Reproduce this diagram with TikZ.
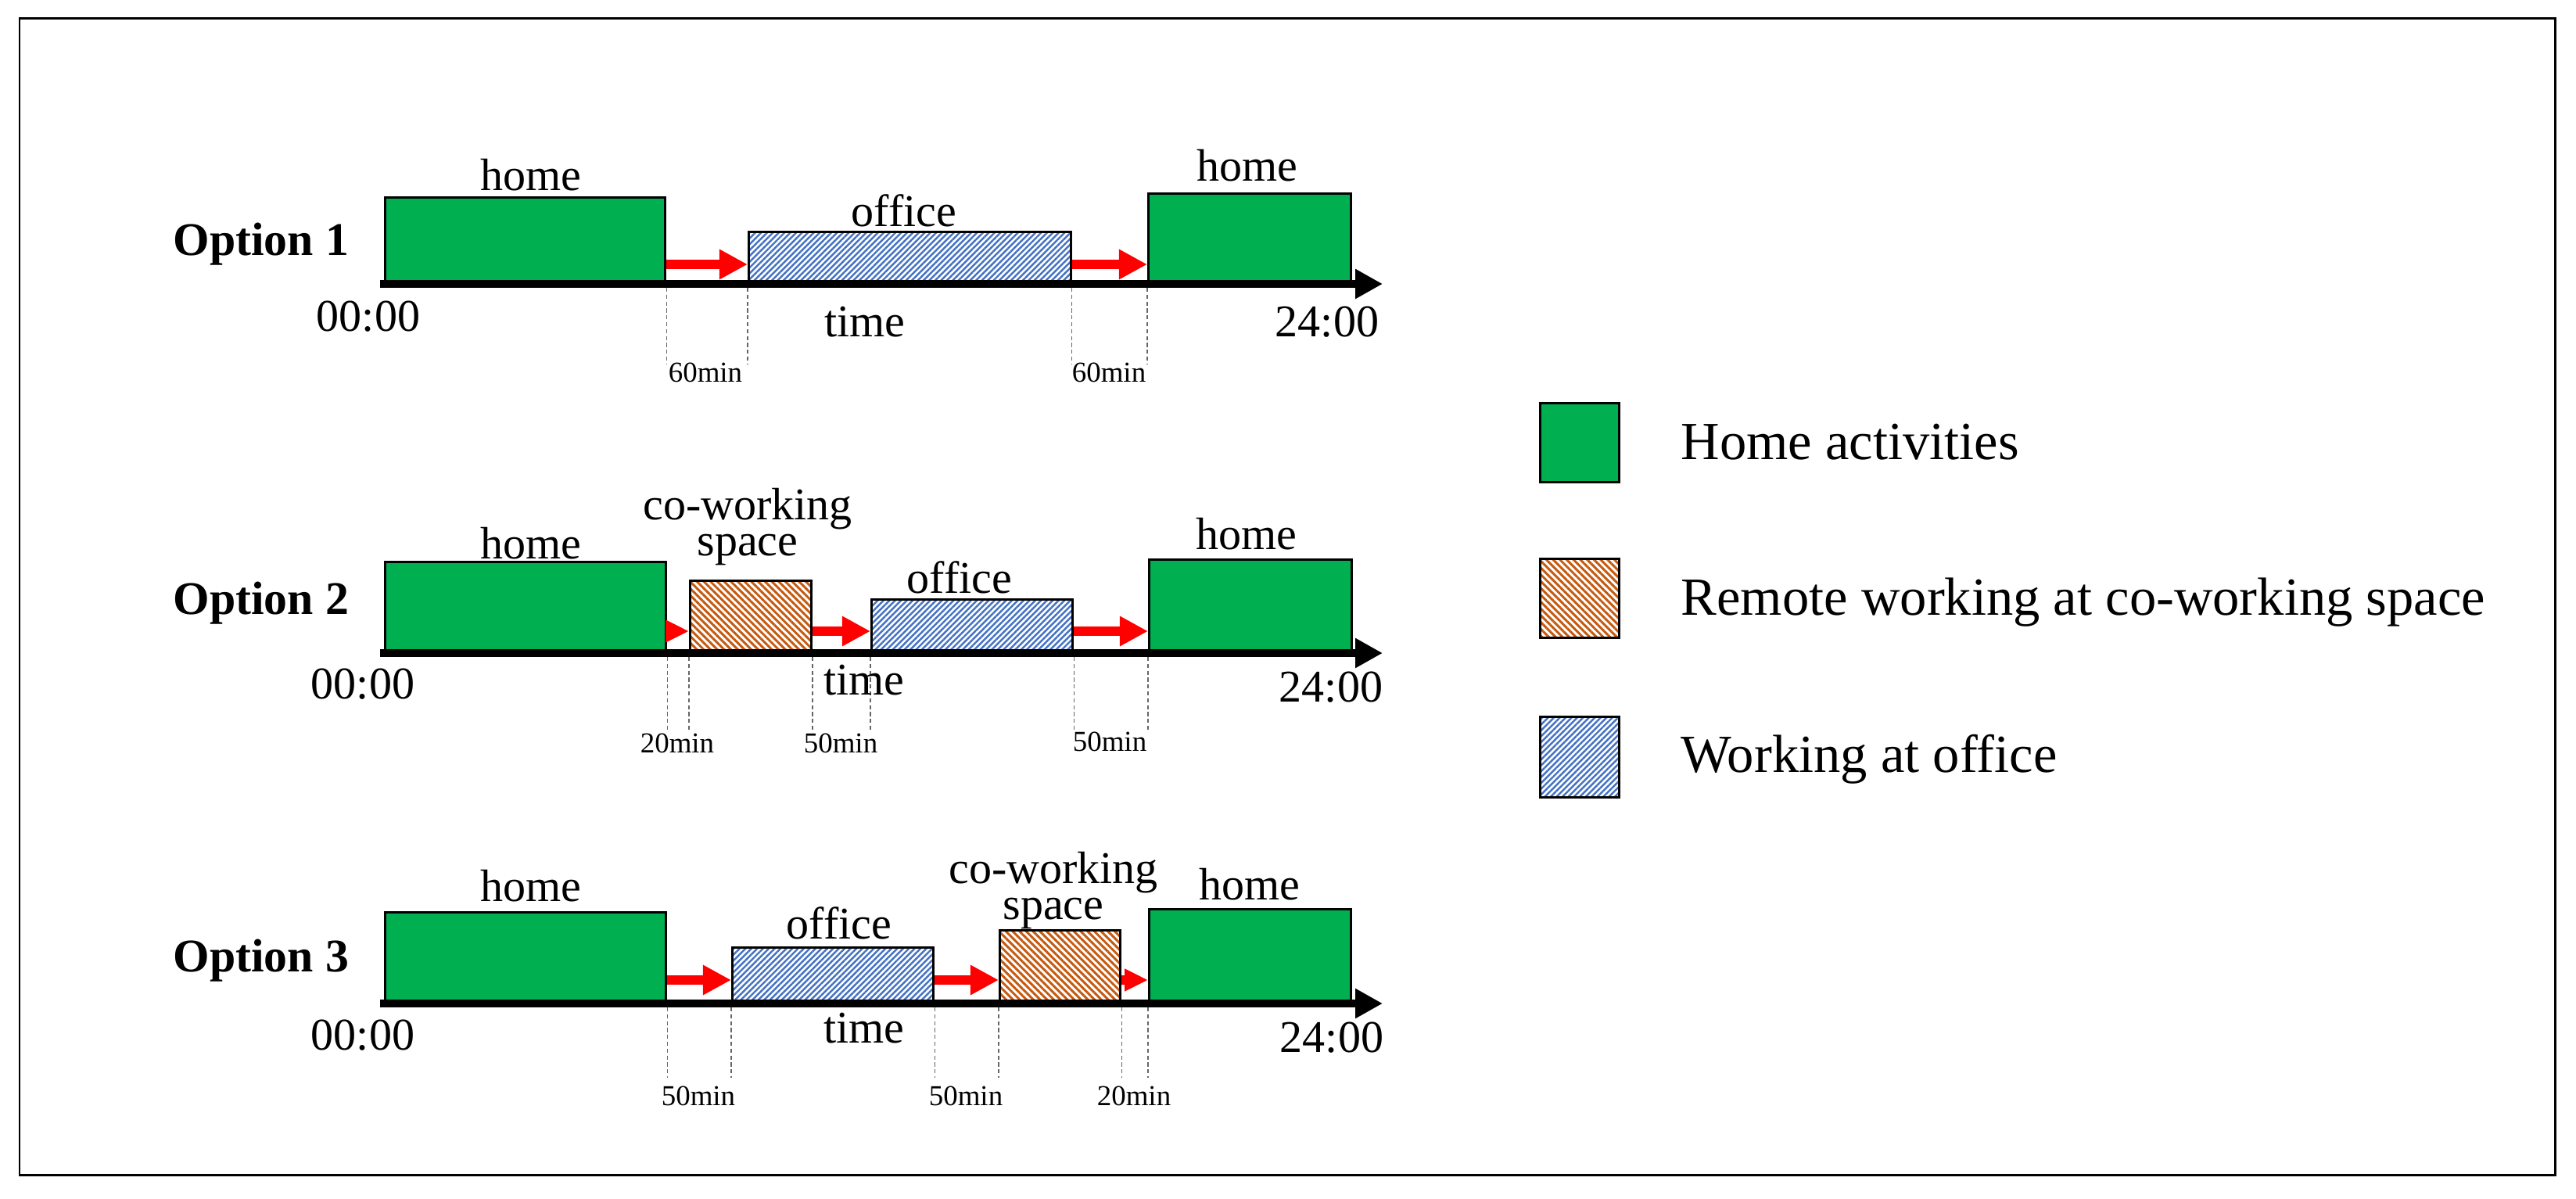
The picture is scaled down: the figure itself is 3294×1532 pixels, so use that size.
\documentclass[tikz,border=0pt]{standalone}
\usepackage{fontspec}
\setmainfont{Liberation Serif}
\usetikzlibrary{arrows.meta,patterns.meta}
\definecolor{hgreen}{HTML}{00B050}
\definecolor{hred}{HTML}{FF0000}
\definecolor{hblue}{HTML}{4472C4}
\definecolor{horange}{HTML}{C55A11}
\begin{document}
\begin{tikzpicture}[x=0.01cm,y=-0.01cm,
  sz/.style 2 args={minimum width=#1,minimum height=#2},
  basebox/.style={draw=black,line width=0.9pt,inner sep=0pt,anchor=south west},
  homebox/.style={basebox,fill=hgreen},
  officebox/.style={basebox,pattern={Lines[angle=45,distance=1.5pt,line width=0.7pt]},pattern color=hblue},
  cowbox/.style={basebox,pattern={Lines[angle=-45,distance=1.75pt,line width=0.85pt]},pattern color=horange},
  axisline/.style={line width=2.85pt,-{Triangle[length=0.35cm,width=0.36cm]}},
  move/.style={hred,line width=3.4pt,-{Triangle[length=0.36cm,width=0.36cm]}},
  shortmove/.style={hred,line width=3.4pt,-{Triangle[length=0.3cm,width=0.27cm]}},
  dline/.style={black!60,line width=0.35pt,dash pattern=on 1.5pt off 1pt},
  lbl/.style={font=\fontsize{16.5}{18}\selectfont,inner sep=0pt,anchor=base},
  twolbl/.style={font=\fontsize{16.5}{13}\selectfont,inner sep=0pt,anchor=base,align=center},
  optlbl/.style={font=\fontsize{17}{19}\selectfont\bfseries,inner sep=0pt,anchor=base west},
  minlbl/.style={font=\fontsize{10.5}{11}\selectfont,inner sep=0pt,anchor=base},
  leglbl/.style={font=\fontsize{19.5}{21}\selectfont,inner sep=0pt,anchor=base west}]
\useasboundingbox (0,0) rectangle (3294,1532);
\draw[line width=0.85pt] (25,23) rectangle (3267,1502);

% ---------------- Option 1 ----------------
\node[optlbl] (opt1) at (221,326) {Option 1};
\node[homebox,sz={3.58cm}{1.09cm}] (h11) at (491,363) {};
\node[officebox,sz={4.12cm}{0.65cm}] (o11) at (956,363) {};
\node[homebox,sz={2.59cm}{1.14cm}] (h12) at (1467,363) {};
\coordinate (a1s) at (486,363);
\coordinate (a1e) at (1768,363);
\draw[axisline] (a1s) -- (a1e);
\draw[move] ([yshift=0.25cm]h11.south east) -- ([yshift=0.25cm]o11.south west);
\draw[move] ([yshift=0.25cm]o11.south east) -- ([yshift=0.25cm]h12.south west);
\foreach \n in {h11.south east,o11.south west,o11.south east,h12.south west}
  \draw[dline] ([yshift=-0.05cm]\n) -- ++(0,98);
\node[lbl] (t11) at (679,243) {home};
\node[lbl] (t12) at (1156,289) {office};
\node[lbl] (t13) at (1595,231) {home};
\node[lbl] (s1) at (471,423) {00:00};
\node[lbl] (tm1) at (1106,430) {time};
\node[lbl] (e1) at (1697,430) {24:00};
\node[minlbl] (m11) at (902,488) {60min};
\node[minlbl] (m12) at (1418,488) {60min};

% ---------------- Option 2 ----------------
\node[optlbl] (opt2) at (221,785) {Option 2};
\node[homebox,sz={3.59cm}{1.15cm}] (h21) at (491,835) {};
\node[cowbox,sz={1.55cm}{0.91cm}] (c21) at (881,835) {};
\node[officebox,sz={2.57cm}{0.67cm}] (o21) at (1113,835) {};
\node[homebox,sz={2.59cm}{1.18cm}] (h22) at (1468,835) {};
\coordinate (a2s) at (486,835);
\coordinate (a2e) at (1768,835);
\draw[axisline] (a2s) -- (a2e);
\draw[shortmove] ([yshift=0.28cm]h21.south east) -- ([yshift=0.28cm]c21.south west);
\draw[move] ([yshift=0.28cm]c21.south east) -- ([yshift=0.28cm]o21.south west);
\draw[move] ([yshift=0.28cm]o21.south east) -- ([yshift=0.28cm]h22.south west);
\foreach \n in {h21.south east,c21.south west,c21.south east,o21.south west,o21.south east,h22.south west}
  \draw[dline] ([yshift=-0.05cm]\n) -- ++(0,93);
\node[lbl] (t21) at (679,714) {home};
\node[twolbl] (t22) at (956,710) {co-working\\space};
\node[lbl] (t23) at (1227,758) {office};
\node[lbl] (t24) at (1594,702) {home};
\node[lbl] (s2) at (464,893) {00:00};
\node[lbl] (tm2) at (1105,888) {time};
\node[lbl] (e2) at (1702,897) {24:00};
\node[minlbl] (m21) at (866,962) {20min};
\node[minlbl] (m22) at (1075,962) {50min};
\node[minlbl] (m23) at (1419,960) {50min};

% ---------------- Option 3 ----------------
\node[optlbl] (opt3) at (221,1242) {Option 3};
\node[homebox,sz={3.59cm}{1.15cm}] (h31) at (491,1283) {};
\node[officebox,sz={2.57cm}{0.70cm}] (o31) at (935,1283) {};
\node[cowbox,sz={1.54cm}{0.92cm}] (c31) at (1277,1283) {};
\node[homebox,sz={2.58cm}{1.19cm}] (h32) at (1468,1283) {};
\coordinate (a3s) at (486,1283);
\coordinate (a3e) at (1768,1283);
\draw[axisline] (a3s) -- (a3e);
\draw[move] ([yshift=0.30cm]h31.south east) -- ([yshift=0.30cm]o31.south west);
\draw[move] ([yshift=0.30cm]o31.south east) -- ([yshift=0.30cm]c31.south west);
\draw[shortmove] ([yshift=0.30cm]c31.south east) -- ([yshift=0.30cm]h32.south west);
\foreach \n in {h31.south east,o31.south west,o31.south east,c31.south west,c31.south east,h32.south west}
  \draw[dline] ([yshift=-0.05cm]\n) -- ++(0,90);
\node[lbl] (t31) at (679,1152) {home};
\node[lbl] (t32) at (1073,1200) {office};
\node[twolbl] (t33) at (1347,1175) {co-working\\space};
\node[lbl] (t34) at (1598,1150) {home};
\node[lbl] (s3) at (464,1342) {00:00};
\node[lbl] (tm3) at (1105,1333) {time};
\node[lbl] (e3) at (1703,1345) {24:00};
\node[minlbl] (m31) at (893,1413) {50min};
\node[minlbl] (m32) at (1235,1413) {50min};
\node[minlbl] (m33) at (1450,1413) {20min};

% ---------------- Legend ----------------
\node[homebox,sz={1.01cm}{1.01cm}] (lg1) at (1968,618) {};
\node[cowbox,sz={1.01cm}{1.01cm}] (lg2) at (1968,817) {};
\node[officebox,sz={1.01cm}{1.03cm}] (lg3) at (1968,1021) {};
\node[leglbl] (lt1) at (2149,587) {Home activities};
\node[leglbl] (lt2) at (2149,786) {Remote working at co-working space};
\node[leglbl] (lt3) at (2149,987) {Working at office};
\end{tikzpicture}
\end{document}
